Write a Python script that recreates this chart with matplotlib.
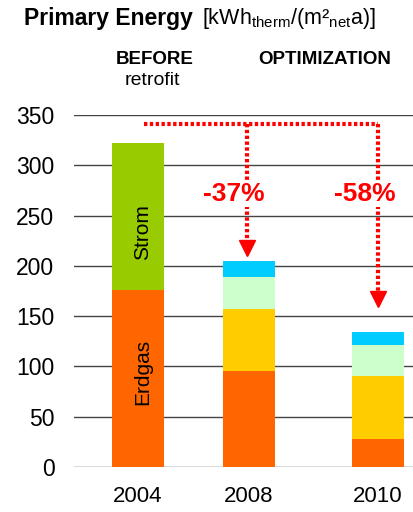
import matplotlib.pyplot as plt

plt.rcParams['font.family'] = ['Liberation Sans', 'DejaVu Sans']

# data
years = ['2004', '2008', '2010']
xpos = [0.0, 1.0, 2.16]
erdgas = [176, 95, 28]
strom = [146, 0, 0]
yellow = [0, 62, 62]
lightgreen = [0, 32, 31]
cyan = [0, 16, 13]
reductions = ['-37%', '-58%']
ref_level = 341
arrow_tips = [211, 160]
label_y = 272

fig = plt.figure(figsize=(4.13, 5.12), dpi=100)
ax = fig.add_axes([0.179, 0.088, 0.821, 0.687])

w = 0.47
b = [0, 0, 0]
for vals, col in [(erdgas, '#FF6600'), (strom, '#99CC00'), (yellow, '#FFCC00'),
                  (lightgreen, '#CCFFCC'), (cyan, '#00CCFF')]:
    ax.bar(xpos, vals, width=w, bottom=b, color=col, zorder=3)
    b = [b[i] + vals[i] for i in range(3)]

ax.text(xpos[0] + 0.04, erdgas[0] + strom[0] / 2 - 15, 'Strom', rotation=90,
        ha='center', va='center', fontsize=15, zorder=4)
ax.text(xpos[0] + 0.04, erdgas[0] / 2 + 7, 'Erdgas', rotation=90,
        ha='center', va='center', fontsize=15, zorder=4)

ax.set_ylim(0, 350)
ax.set_xlim(-0.577, 2.477)
ax.set_yticks(range(0, 351, 50))
ax.set_xticks(xpos)
ax.set_xticklabels(years)
ax.tick_params(length=0, labelsize=16.5)
ax.tick_params(axis='y', pad=14)
ax.tick_params(axis='x', pad=14, labelsize=16)
ax.grid(axis='y', color='#444444', lw=1, zorder=1)
for s in ax.spines.values():
    s.set_visible(False)

# red dotted arrows
dot = (0, (0.8, 0.6))
ax.plot([xpos[0] + 0.05, xpos[2]], [ref_level, ref_level], color='#FF0000',
        lw=3, ls=dot, zorder=5, solid_capstyle='butt')
for i, x in enumerate([xpos[1] - 0.02, xpos[2]]):
    ax.plot([x, x], [ref_level, arrow_tips[i] + 8], color='#FF0000', lw=3,
            ls=dot, zorder=5)
    ax.plot(x, arrow_tips[i] + 7, marker='v', color='#FF0000', ms=11, zorder=6)
    ax.text(x - 0.12, label_y, reductions[i], color='#FF0000', fontsize=19,
            fontweight='bold', ha='center', va='center', zorder=7,
            bbox=dict(facecolor='white', edgecolor='none', pad=1))

fig.text(0.058, 0.964, 'Primary Energy', fontsize=16.5, fontweight='bold',
         va='center')
fig.text(0.49, 0.964, r'[kWh$_{\mathregular{therm}}$/(m²$_{\mathregular{net}}$a)]',
         fontsize=15.5, va='center')
fig.text(0.375, 0.883, 'BEFORE', fontsize=13.5, fontweight='bold', ha='center', va='center')
fig.text(0.368, 0.843, 'retrofit', fontsize=14, ha='center', va='center')
fig.text(0.785, 0.883, 'OPTIMIZATION', fontsize=13.5, fontweight='bold', ha='center', va='center')

fig.savefig('out.png', dpi=100)
